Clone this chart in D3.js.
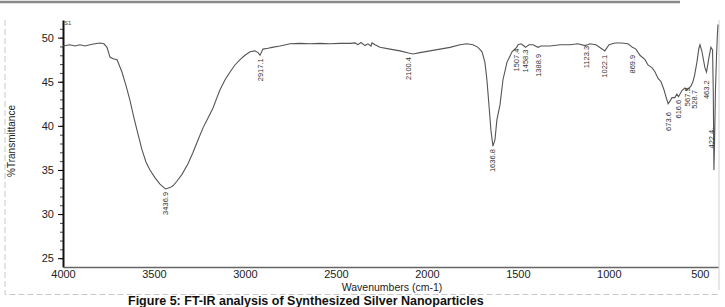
<!DOCTYPE html>
<html>
<head>
<meta charset="utf-8">
<script src="https://cdn.jsdelivr.net/npm/d3@7"></script>
<style>
  body { margin: 0; background: #fff; }
  svg { display: block; font-family: "Liberation Sans", Arial, sans-serif; }
</style>
</head>
<body>
<svg id="drawing_region"></svg>
<script>
// spectrum (cm-1, %T)
const wavenumbers = [4000, 3962, 3934, 3907, 3879, 3852, 3824, 3797, 3775, 3758, 3742, 3725, 3703, 3676, 3654, 3632,
  3610, 3593, 3566, 3544, 3522, 3494, 3467, 3445, 3437, 3412, 3395, 3373, 3346, 3313, 3285, 3258, 3230, 3203,
  3176, 3154, 3137, 3110, 3082, 3055, 3027, 3000, 2972, 2945, 2928, 2917, 2901, 2873, 2851, 2807, 2752, 2697,
  2643, 2588, 2533, 2478, 2423, 2395, 2379, 2362, 2340, 2324, 2307, 2302, 2285, 2258, 2203, 2148, 2100, 2077,
  2038, 1983, 1928, 1873, 1818, 1780, 1747, 1719, 1697, 1681, 1670, 1659, 1648, 1637, 1626, 1615, 1598, 1582,
  1560, 1532, 1507, 1499, 1483, 1466, 1458, 1439, 1417, 1389, 1373, 1324, 1268, 1213, 1170, 1131, 1123, 1104,
  1071, 1043, 1022, 999, 966, 928, 895, 870, 851, 829, 801, 785, 763, 746, 730, 713, 697, 686, 674, 664,
  653, 637, 626, 617, 598, 582, 568, 549, 538, 529, 516, 505, 499, 488, 472, 463, 450, 439, 430, 426,
  422.4, 419, 414, 408, 403, 400];
const transmittance = [49.05, 49.2, 49.05, 49.2, 49.05, 49.2, 49.3, 49.4, 49.3, 48.9, 47.8, 47.6, 47.5, 46.1, 44.6, 42.9,
  40.9, 39.5, 37.3, 35.9, 35.0, 34.1, 33.4, 33.0, 32.85, 33.0, 33.2, 33.75, 34.5, 35.7, 37.0, 38.4, 39.8, 40.9,
  42.0, 43.2, 44.1, 45.2, 46.1, 46.9, 47.5, 48.0, 48.4, 48.5, 48.3, 48.0, 48.7, 48.8, 48.9, 49.05, 49.3, 49.35,
  49.3, 49.35, 49.3, 49.35, 49.35, 49.4, 49.2, 49.45, 49.1, 49.3, 49.05, 49.4, 49.2, 48.9, 48.7, 48.5, 48.25, 48.15,
  48.3, 48.5, 48.7, 48.9, 49.2, 49.3, 49.2, 48.9, 48.4, 47.2, 45.2, 42.4, 39.5, 37.7, 38.4, 40.7, 42.4, 45.2,
  47.2, 48.4, 48.9, 49.2, 49.3, 49.05, 48.9, 49.2, 49.2, 48.9, 49.05, 49.05, 49.2, 49.2, 49.3, 49.1, 49.15, 49.3,
  49.2, 48.8, 48.5, 49.2, 49.4, 49.4, 49.3, 48.9, 48.7, 48.0, 47.5, 46.9, 46.6, 46.1, 45.4, 45.0, 44.1, 43.3, 42.5, 42.8,
  43.2, 43.2, 43.6, 43.3, 44.0, 44.3, 44.1, 44.5, 45.0, 45.7, 47.2, 48.8, 49.2, 48.4, 46.6, 46.1, 47.7, 48.9, 48.6, 44.0,
  35.0, 38.0, 44.0, 48.0, 50.5, 51.5];

// peak annotations
const peakLabels = ["3436.9", "2917.1", "2100.4", "1636.8", "1507.4", "1458.3", "1388.9", "1123.3", "1022.1",
  "869.9", "673.6", "616.6", "567.5", "528.7", "463.2", "422.4"];
const peakWavenumbers = [3436.9, 2917.1, 2100.4, 1636.8, 1507.4, 1458.3, 1388.9, 1123.3, 1022.1,
  869.9, 673.6, 616.6, 567.5, 528.7, 463.2, 435];
const peakTransmittance = [32.85, 48.0, 48.15, 37.7, 49.1, 49.0, 48.5, 49.4, 48.4,
  48.4, 41.9, 43.3, 44.7, 44.4, 45.5, 39.9];

const xTickValues = [4000, 3500, 3000, 2500, 2000, 1500, 1000, 500];
const yTickValues = [25, 30, 35, 40, 45, 50];

class SpectrumChart {
  constructor(config) {
    this.config = config;
    this.init();
  }

  init() {
    let self = this;
    const c = self.config;

    self.svg = d3.select(c.parent)
      .attr('width', c.width)
      .attr('height', c.height);

    self.xScale = d3.scaleLinear()
      .domain([4000, 400])
      .range([c.margin.left, c.width - c.margin.right]);

    self.yScale = d3.scaleLinear()
      .domain([24, 52])
      .range([c.height - c.margin.bottom, c.margin.top]);
  }

  render() {
    let self = this;
    const c = self.config;
    const x = self.xScale, y = self.yScale;
    const bottom = c.height - c.margin.bottom;

    // page decoration around the figure
    self.svg.append('line')
      .attr('x1', 0).attr('x2', 680).attr('y1', 2).attr('y2', 2)
      .attr('stroke', '#8a8a8a').attr('stroke-width', 2.5);
    self.svg.append('path')
      .attr('d', 'M5,20 V294.5 H720')
      .attr('fill', 'none')
      .attr('stroke', '#c8c8c8')
      .attr('stroke-dasharray', '6,3');
    self.svg.append('line')
      .attr('x1', 719).attr('x2', 719).attr('y1', 20).attr('y2', 290)
      .attr('stroke', '#d0d0d0');

    // y minor ticks
    self.svg.append('g')
      .attr('transform', `translate(${c.margin.left},0)`)
      .call(d3.axisLeft(y).tickValues(d3.range(25, 52, 1)).tickSize(3).tickFormat(''))
      .call(g => g.select('.domain').remove())
      .selectAll('line').attr('stroke', '#444');

    // y axis
    const yAxis = self.svg.append('g')
      .attr('transform', `translate(${c.margin.left},0)`)
      .call(d3.axisLeft(y).tickValues(yTickValues).tickSize(5).tickSizeOuter(0).tickPadding(4));
    yAxis.select('.domain').attr('stroke', '#111').attr('stroke-width', 2);
    yAxis.selectAll('text').attr('font-size', '11px').attr('fill', '#222')
      .attr('font-family', '"Liberation Sans", Arial, sans-serif');

    // x axis
    const xAxis = self.svg.append('g')
      .attr('transform', `translate(0,${bottom})`)
      .call(d3.axisBottom(x).tickValues(xTickValues).tickFormat(d3.format('d'))
        .tickSize(0).tickSizeOuter(0).tickPadding(3));
    xAxis.select('.domain').attr('stroke', '#666').attr('stroke-width', 1.5);
    xAxis.selectAll('text').attr('font-size', '11px').attr('fill', '#222')
      .attr('font-family', '"Liberation Sans", Arial, sans-serif');

    // axis titles
    self.svg.append('text')
      .attr('x', 392).attr('y', 291)
      .attr('text-anchor', 'middle')
      .attr('font-size', '10.5px').attr('fill', '#222')
      .text('Wavenumbers (cm-1)');

    self.svg.append('text')
      .attr('transform', 'translate(15,141) rotate(-90)')
      .attr('text-anchor', 'middle')
      .attr('font-size', '10px').attr('fill', '#222')
      .text('%Transmittance');

    self.svg.append('text')
      .attr('x', c.margin.left + 1).attr('y', c.margin.top + 5)
      .attr('font-size', '6px').attr('fill', '#444')
      .text('S1');

    // spectrum
    const pts = wavenumbers.map((w, i) => [w, transmittance[i]]);
    const line = d3.line()
      .x(d => x(d[0]))
      .y(d => y(d[1]));

    self.svg.append('path')
      .datum(pts)
      .attr('d', line)
      .attr('fill', 'none')
      .attr('stroke', '#555')
      .attr('stroke-width', 1.1);

    // peak labels, reading upwards, hanging under each band
    const peaks = peakLabels.map((t, i) => ({ label: t, w: peakWavenumbers[i], t: peakTransmittance[i] }));
    self.svg.selectAll('.peak')
      .data(peaks)
      .enter()
      .append('text')
      .attr('class', 'peak')
      .attr('transform', d => `translate(${x(d.w) + 2.5},${y(d.t) + 3}) rotate(-90)`)
      .attr('text-anchor', 'end')
      .attr('font-size', '7.5px')
      .attr('fill', '#333')
      .text(d => d.label);

    // leader from the last label to its band
    self.svg.append('line')
      .attr('x1', x(435) + 1).attr('x2', x(422.4))
      .attr('y1', y(39.9) + 2).attr('y2', y(39.9) + 2)
      .attr('stroke', '#555').attr('stroke-width', 0.8);

    // caption, sitting on the bottom edge as in the source page
    self.svg.append('text')
      .attr('x', 128).attr('y', 305)
      .attr('font-size', '12.5px').attr('font-weight', 'bold').attr('fill', '#111')
      .text('Figure 5: FT-IR analysis of Synthesized Silver Nanoparticles');
  }
}

const chart = new SpectrumChart({
  parent: '#drawing_region',
  width: 725,
  height: 307,
  margin: { top: 20, right: 7, bottom: 40, left: 63 }
});
chart.render();
</script>
</body>
</html>
